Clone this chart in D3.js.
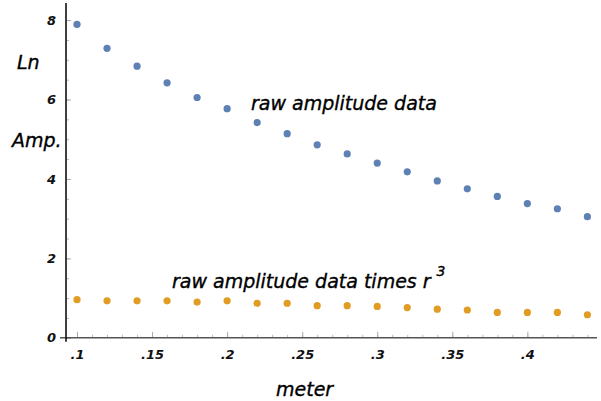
<!DOCTYPE html>
<html>
<head>
<meta charset="utf-8">
<script src="https://cdn.jsdelivr.net/npm/d3@7"></script>
<style>
  body { margin: 0; background: #fff; }
  svg { display: block; }
  .tick-label { font-family: "DejaVu Sans", sans-serif; font-style: italic; font-weight: bold; font-size: 13px; fill: #111; }
  .label { font-family: "DejaVu Sans", sans-serif; font-style: italic; font-size: 19px; fill: #000; stroke: #000; stroke-width: 0.35px; }
</style>
</head>
<body>
<div id="chart-container"></div>
<script>
// data
const meters = [0.10, 0.12, 0.14, 0.16, 0.18, 0.20, 0.22, 0.24, 0.26, 0.28, 0.30, 0.32, 0.34, 0.36, 0.38, 0.40, 0.42, 0.44];
const lnAmp = [7.89, 7.29, 6.84, 6.42, 6.05, 5.77, 5.42, 5.14, 4.86, 4.63, 4.40, 4.18, 3.95, 3.75, 3.56, 3.38, 3.25, 3.05];
const lnAmpTimesR3 = [0.96, 0.93, 0.93, 0.93, 0.90, 0.93, 0.87, 0.87, 0.81, 0.81, 0.79, 0.76, 0.72, 0.70, 0.64, 0.64, 0.64, 0.58];
const xTicks = [0.1, 0.15, 0.2, 0.25, 0.3, 0.35, 0.4];
const xTickLabels = [".1", ".15", ".2", ".25", ".3", ".35", ".4"];
const yTicks = [0, 2, 4, 6, 8];

const width = 601;
const height = 401;

const xScale = d3.scaleLinear().domain([0.09267, 0.4464]).range([66, 597]);
const yScale = d3.scaleLinear().domain([0, 8.43]).range([337.8, 3]);

const svg = d3
  .select("#chart-container")
  .append("svg")
  .attr("width", width)
  .attr("height", height);

// minor ticks
const xMinor = d3.range(0.1, 0.445, 0.01).map((d) => +d.toFixed(2));
const yMinor = d3.range(0, 8.4, 0.5);

svg
  .append("g")
  .attr("transform", `translate(0, ${yScale(0)})`)
  .call(d3.axisBottom(xScale).tickValues(xMinor).tickSize(-3).tickFormat(""))
  .call((g) => g.select(".domain").remove())
  .selectAll("line")
  .attr("stroke", "#bbb");

svg
  .append("g")
  .attr("transform", `translate(${xScale.range()[0]}, 0)`)
  .call(d3.axisLeft(yScale).tickValues(yMinor).tickSize(-3).tickFormat(""))
  .call((g) => g.select(".domain").remove())
  .selectAll("line")
  .attr("stroke", "#bbb");

// major x axis
const xAxis = svg
  .append("g")
  .attr("transform", `translate(0, ${yScale(0)})`)
  .call(
    d3.axisBottom(xScale)
      .tickValues(xTicks)
      .tickSize(-6)
      .tickPadding(12)
      .tickFormat((d, i) => xTickLabels[i])
  );
xAxis.select(".domain").remove();
xAxis.selectAll(".tick line").attr("stroke", "#aaa");
xAxis.selectAll(".tick text").attr("class", "tick-label").attr("font-family", null).attr("font-size", null);

// major y axis
const yAxis = svg
  .append("g")
  .attr("transform", `translate(${xScale.range()[0]}, 0)`)
  .call(d3.axisLeft(yScale).tickValues(yTicks).tickSize(-5).tickPadding(10));
yAxis.select(".domain").remove();
yAxis.selectAll(".tick line").attr("stroke", "#aaa");
yAxis.selectAll(".tick text").attr("class", "tick-label").attr("font-family", null).attr("font-size", null);

// axis lines
svg
  .append("line")
  .attr("x1", 60)
  .attr("x2", xScale.range()[1])
  .attr("y1", yScale(0))
  .attr("y2", yScale(0))
  .attr("stroke", "#555")
  .attr("stroke-width", 1.6);

svg
  .append("line")
  .attr("x1", xScale.range()[0])
  .attr("x2", xScale.range()[0])
  .attr("y1", yScale.range()[1])
  .attr("y2", yScale(0) + 4)
  .attr("stroke", "#111")
  .attr("stroke-width", 1.6);

// points
svg
  .append("g")
  .selectAll("circle")
  .data(meters)
  .join("circle")
  .attr("cx", (d) => xScale(d))
  .attr("cy", (d, i) => yScale(lnAmp[i]))
  .attr("r", 3.6)
  .attr("fill", "#5e81b5");

svg
  .append("g")
  .selectAll("circle")
  .data(meters)
  .join("circle")
  .attr("cx", (d) => xScale(d))
  .attr("cy", (d, i) => yScale(lnAmpTimesR3[i]))
  .attr("r", 3.6)
  .attr("fill", "#e19c24");

// labels
svg.append("text").attr("class", "label").attr("x", 251).attr("y", 110).text("raw amplitude data");

const t2 = svg.append("text").attr("class", "label").attr("x", 172).attr("y", 288);
t2.append("tspan").text("raw amplitude data times r");
t2.append("tspan").attr("dx", 6).attr("dy", -12).attr("font-size", 14).text("3");

svg.append("text").attr("class", "label").attr("x", 17).attr("y", 69).text("Ln");
svg.append("text").attr("class", "label").attr("x", 12).attr("y", 147).text("Amp.");
svg.append("text").attr("class", "label").attr("x", 276).attr("y", 396).text("meter");
</script>
</body>
</html>
